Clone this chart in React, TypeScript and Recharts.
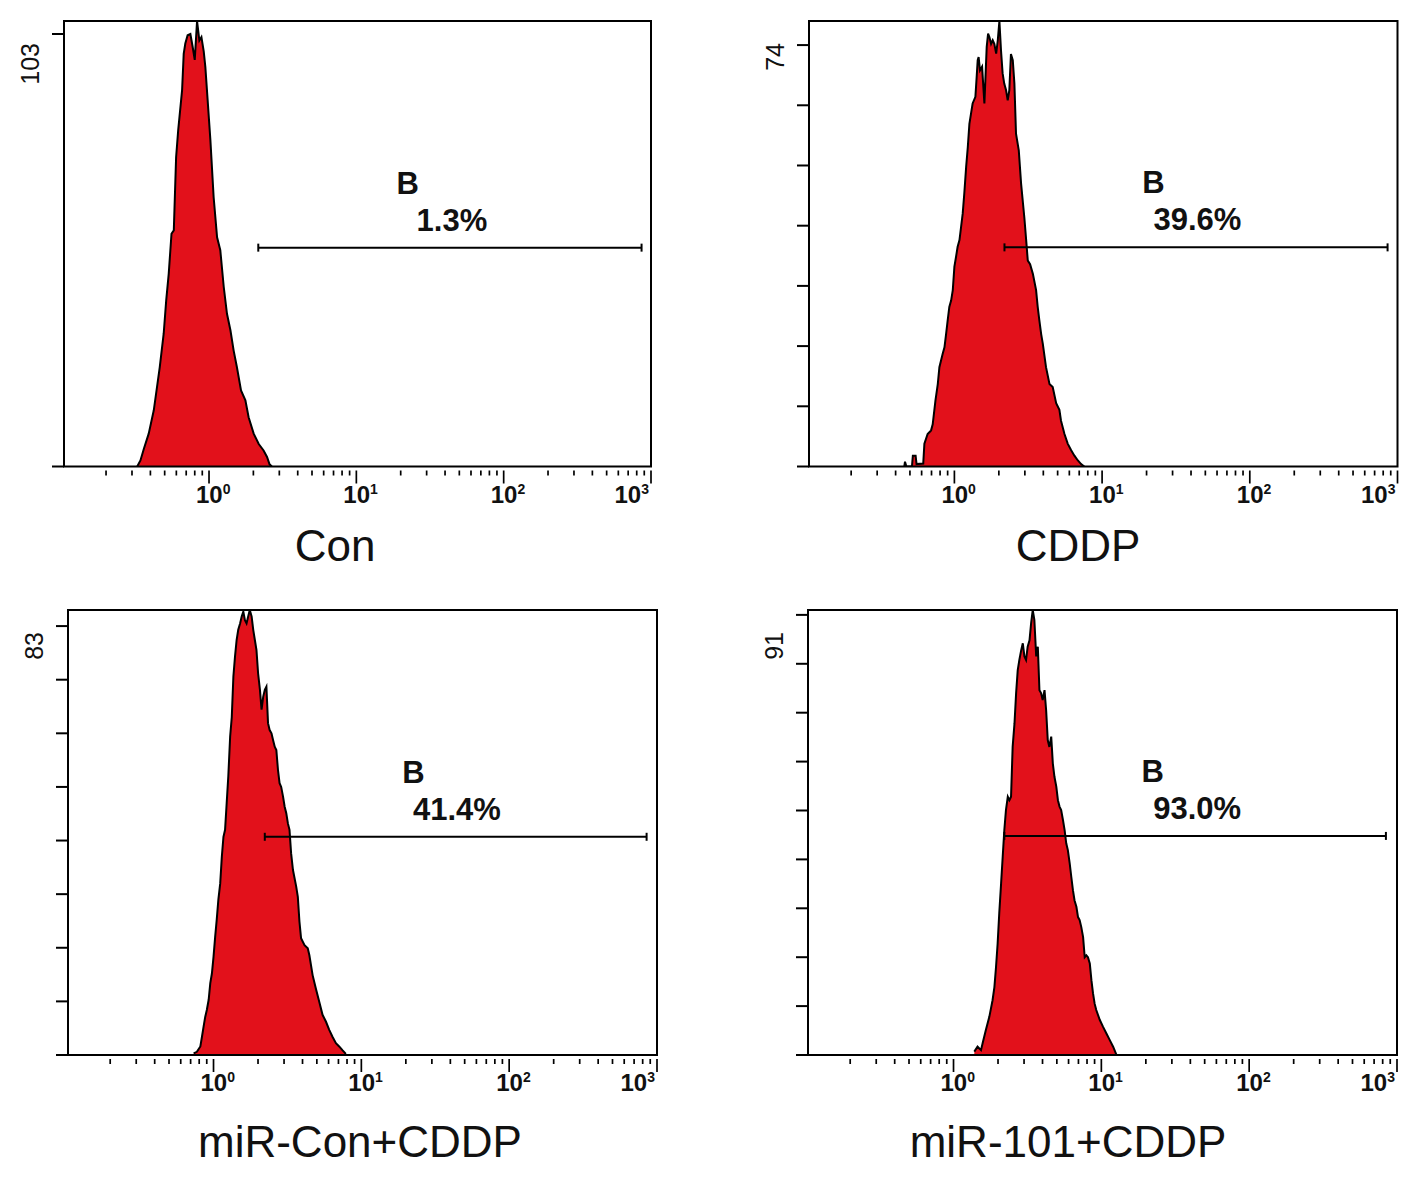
import React from 'react';
import { AreaChart, Area, XAxis, YAxis, ReferenceArea, ReferenceLine, ReferenceDot } from 'recharts';

// x values are log-scale channels: 64 channels per decade, channel 0 = 10^-1, channel 256 = 10^3
const CH_MIN = 1;
const CH_MAX = 256;

const titles = ['Con', 'CDDP', 'miR-Con+CDDP', 'miR-101+CDDP'];
const gateName = 'B';
const gatePercents = ['1.3%', '39.6%', '41.4%', '93.0%'];
const yMaxValues = [103, 74, 83, 91];

const yTicksCon = [0, 100, 103];
const yTicksCddp = [0, 10, 20, 30, 40, 50, 60, 70, 74];
const yTicksMiCon = [0, 10, 20, 30, 40, 50, 60, 70, 80, 83];
const yTicksMi101 = [0, 10, 20, 30, 40, 50, 60, 70, 80, 90, 91];

const decadeExponents = [0, 1, 2, 3];
const decadeStarts = [0.1, 1, 10, 100];
const minorMultipliers = [2, 3, 4, 5, 6, 7, 8, 9];

const gateStartCh = [85.4, 85.7, 86.2, 86.0];
const gateEndCh = [251.9, 251.7, 251.5, 251.2];
const gateCount = [50.6, 36.4, 40.7, 44.8];
const gateNameCh = [150.3, 150.3, 150.6, 150.2];
const gatePctCh = [169.5, 169.3, 169.4, 169.5];

// Con
const conCh = [32.8, 34.2, 35.7, 37.8, 40.0, 42.6, 44.3, 45.4, 46.5, 47.2, 47.7, 48.7, 49.7, 50.6, 52.3, 53.0, 53.7, 54.7, 55.9, 56.9, 57.8, 58.8, 59.8, 60.7, 61.7, 62.4, 63.4, 64.6, 66.0, 67.5, 68.9, 70.4, 71.8, 73.3, 74.7, 76.1, 77.9, 79.8, 81.2, 83.4, 85.6, 87.7, 89.2, 90.3, 91.3];
const conCount = [0, 1.4, 4.1, 7.6, 13, 23, 30.7, 38.4, 44.6, 50, 53.8, 54.6, 71.5, 77.7, 87, 95.4, 97.8, 99.7, 100, 97, 94, 103, 98.5, 99.3, 96, 92.4, 84.7, 75.4, 62.3, 53, 50, 41.5, 35.3, 31.5, 26.8, 23, 17.6, 15.3, 11.4, 7.6, 5.2, 3.7, 2.2, 0.5, 0];

// CDDP
const cddpCh = [42.3, 42.6, 43.2, 45.6, 46.0, 47.2, 47.6, 50.5, 51.0, 52.4, 53.9, 54.6, 55.8, 56.8, 57.5, 58.9, 59.7, 60.4, 61.1, 61.8, 62.6, 63.3, 64.0, 64.7, 65.4, 66.2, 66.9, 67.6, 68.3, 69.1, 69.8, 70.5, 71.2, 71.9, 73.1, 73.7, 74.1, 74.5, 75.1, 76.0, 77.0, 78.0, 78.6, 79.2, 79.9, 80.6, 81.3, 82.1, 82.8, 83.5, 84.2, 84.9, 85.6, 86.4, 87.1, 87.8, 88.5, 89.3, 90.0, 90.7, 91.9, 92.9, 94.3, 95.1, 95.8, 96.8, 98.0, 99.4, 100.1, 100.8, 101.6, 102.3, 103.7, 105.2, 106.6, 108.1, 109.5, 110.2, 111.7, 113.1, 114.6, 116.0, 117.5, 118.9, 120.3];
const cddpCount = [0, 0.8, 0, 0, 1.8, 1.8, 0.4, 0.5, 3.8, 5.4, 6, 7, 11, 13.7, 16.5, 18.7, 19.8, 22, 24.3, 26.5, 27.6, 29.3, 33.2, 34.8, 36.5, 37.6, 39.8, 42, 45.4, 49.8, 53, 56.9, 58.6, 60.3, 61.4, 65, 67.5, 68, 65.8, 66.4, 60.3, 69.7, 71.9, 71.3, 70.2, 70.8, 70.2, 68.6, 70.8, 74, 69.1, 65.3, 63.6, 62.5, 60.8, 62.5, 68.5, 67.5, 63.6, 55.3, 52.5, 47, 41.4, 37.6, 34.2, 33.6, 32, 29.3, 26.5, 24.3, 22, 20.4, 16.5, 13.7, 13.2, 10.5, 9.4, 7.6, 5.4, 3.8, 2.7, 1.8, 1.0, 0.4, 0];

// miR-Con+CDDP
const miConCh = [55.4, 56.8, 58.3, 59.0, 59.7, 60.4, 61.1, 61.9, 62.6, 63.3, 64.0, 64.7, 65.4, 66.1, 66.9, 67.6, 68.3, 69.0, 69.7, 70.4, 71.2, 71.9, 72.6, 73.3, 74.0, 74.7, 75.5, 76.2, 76.9, 77.6, 78.3, 79.0, 79.7, 80.5, 81.2, 81.9, 82.6, 83.3, 84.1, 84.8, 85.5, 86.2, 86.9, 87.6, 88.3, 89.1, 89.8, 90.5, 91.2, 91.9, 92.6, 93.3, 94.1, 94.8, 95.5, 96.2, 96.9, 97.6, 98.4, 99.8, 100.5, 101.2, 101.9, 103.4, 104.8, 105.5, 106.9, 108.3, 109.8, 111.2, 112.7, 114.1, 115.5, 117.0, 118.4, 119.8, 121.3];
const miConCount = [0.3, 0.6, 1.6, 3.4, 5.3, 7.1, 8.4, 10.3, 13.4, 15.2, 18.3, 22, 25.3, 29, 32, 37, 40.7, 42, 47, 52, 59.4, 63, 70.6, 74.3, 77.4, 79.3, 80.5, 81.8, 82.7, 81.1, 80.5, 81.8, 83, 81.8, 79.3, 77.4, 75.5, 71.2, 68.1, 64.4, 66.8, 68.1, 68.7, 61.9, 60.6, 60, 58.7, 57.5, 56.9, 53.2, 50.7, 50, 48.2, 46.3, 45.1, 43.2, 42, 37.6, 34.5, 31.4, 29.5, 24.9, 21.8, 20.5, 19.9, 18.6, 14.9, 12.4, 9.9, 7.5, 6.2, 4.7, 3.4, 2.2, 1.6, 0.9, 0.2];

// miR-101+CDDP
const mi101Ch = [73.0, 74.4, 75.9, 76.6, 78.0, 79.5, 80.9, 81.7, 82.4, 83.1, 83.8, 84.6, 85.3, 86.0, 86.7, 87.5, 88.2, 88.9, 89.6, 90.4, 91.1, 91.8, 92.5, 93.3, 94.0, 94.7, 95.4, 96.1, 96.9, 97.6, 98.3, 99.0, 99.8, 100.5, 101.2, 101.9, 102.6, 103.4, 104.1, 104.8, 105.5, 106.3, 107.0, 107.7, 108.5, 109.2, 109.9, 110.6, 111.4, 112.1, 112.8, 113.5, 114.3, 115.0, 115.7, 116.4, 117.2, 117.9, 118.6, 119.3, 120.1, 120.8, 121.5, 122.2, 123.0, 123.7, 124.4, 125.1, 125.8, 127.3, 128.7, 130.2, 131.6, 133.1, 134.5];
const mi101Count = [0.7, 1.7, 1.0, 2.4, 5.1, 7.8, 11.2, 13.9, 18, 22.8, 29, 35.1, 40.6, 46, 50.1, 52.8, 52.1, 52.8, 63, 67.8, 74, 78.7, 80.8, 82.8, 84.2, 81.5, 80.8, 83.5, 84.8, 88.3, 91, 89, 81.5, 83.5, 74.6, 74, 72.6, 74.6, 70.5, 64.4, 63, 65.1, 59.6, 56.9, 54.9, 52.1, 50.8, 50.1, 48, 46, 43.3, 41.9, 39.2, 36.4, 33.7, 31.6, 30.3, 28.2, 27.6, 26.2, 24.1, 20, 20.4, 20, 18.7, 15.3, 12.6, 10.5, 9.2, 7.2, 5.8, 4.4, 3.1, 1.7, 0.1];

const seriesCh = [conCh, cddpCh, miConCh, mi101Ch];
const seriesCount = [conCount, cddpCount, miConCount, mi101Count];
const seriesYTicks = [yTicksCon, yTicksCddp, yTicksMiCon, yTicksMi101];

const toChannel = (v: number) => 64 * (Math.log10(v) + 1);
const majorTicks = decadeExponents.map((e) => 64 * (e + 1));
const minorTicks: number[] = [];
decadeStarts.forEach((d) => minorMultipliers.forEach((m) => minorTicks.push(toChannel(d * m))));
const xTicks = [...minorTicks, ...majorTicks].sort((a, b) => a - b);

const FONT = 'Arial, "Liberation Sans", Helvetica, sans-serif';
const RED = '#E2111B';

const BOXES = [
  { left: 64, top: 20.5, right: 651, bottom: 466 },
  { left: 808.5, top: 20.5, right: 1397, bottom: 466 },
  { left: 68, top: 610, right: 657, bottom: 1055 },
  { left: 808, top: 610, right: 1397, bottom: 1055 },
];
const TITLE_POS = [
  { x: 335, y: 561 },
  { x: 1078, y: 561 },
  { x: 360, y: 1157 },
  { x: 1068, y: 1157 },
];

const XTick = (props: any) => {
  const { x, y, payload } = props;
  const v = payload.value;
  const idx = majorTicks.findIndex((m) => Math.abs(m - v) < 0.01);
  const major = idx >= 0;
  const isLast = idx === majorTicks.length - 1;
  return (
    <g>
      <line x1={x} x2={x} y1={y + 4} y2={y + (major ? 17 : 9)} stroke="#000" strokeWidth={1.7} />
      {major && (
        <text
          x={isLast ? x - 2 : x - 13}
          y={y + 36}
          textAnchor={isLast ? 'end' : 'start'}
          fontFamily={FONT}
          fontWeight="bold"
          fontSize={24}
          fill="#111"
        >
          10
          <tspan fontSize={14} dy={-9}>
            {String(decadeExponents[idx])}
          </tspan>
        </text>
      )}
    </g>
  );
};

const makeYTick = (ymax: number) => (props: any) => {
  const { x, y, payload } = props;
  if (payload.value === ymax) {
    const tx = x - 25;
    const ty = y + 22;
    return (
      <text
        x={tx}
        y={ty}
        textAnchor="end"
        transform={`rotate(-90, ${tx}, ${ty})`}
        fontFamily={FONT}
        fontSize={25}
        fill="#111"
      >
        {String(ymax)}
      </text>
    );
  }
  return <line x1={x - 12} x2={x} y1={y} y2={y} stroke="#000" strokeWidth={2} />;
};

const Cap = (props: any) => {
  const { cx, cy } = props;
  return <line x1={cx} x2={cx} y1={cy - 4} y2={cy + 4} stroke="#000" strokeWidth={2} />;
};

const makeTextShape = (label: string, dy: number) => (props: any) => {
  const { cx, cy } = props;
  return (
    <text x={cx} y={cy + dy} textAnchor="middle" fontFamily={FONT} fontWeight="bold" fontSize={31} fill="#111">
      {label}
    </text>
  );
};

function Histogram({ idx }: { idx: number }) {
  const box = BOXES[idx];
  const ML = 63; // + 1px y-axis width
  const MT = 20;
  const MR = 16;
  const MB = 59; // + 1px x-axis height
  const w = box.right - box.left + ML + 1 + MR;
  const h = box.bottom - box.top + MT + MB + 1;
  const ymax = yMaxValues[idx];
  const data = seriesCh[idx].map((c, i) => ({ ch: c, count: seriesCount[idx][i] }));
  const gy = gateCount[idx];
  return (
    <div style={{ position: 'absolute', left: box.left - ML - 1, top: box.top - MT, width: w, height: h }}>
      <AreaChart width={w} height={h} data={data} margin={{ top: MT, left: ML, right: MR, bottom: MB }}>
        <XAxis
          type="number"
          dataKey="ch"
          domain={[CH_MIN, CH_MAX]}
          allowDataOverflow
          ticks={xTicks}
          interval={0}
          tick={XTick}
          tickSize={0}
          tickMargin={0}
          axisLine={false}
          tickLine={false}
          height={1}
        />
        <YAxis
          type="number"
          domain={[0, ymax]}
          allowDataOverflow
          ticks={seriesYTicks[idx]}
          interval={0}
          tick={makeYTick(ymax)}
          width={1}
          tickSize={0}
          tickMargin={0}
          axisLine={false}
          tickLine={false}
        />
        <Area
          type="linear"
          dataKey="count"
          stroke="#000"
          strokeWidth={2}
          fill={RED}
          fillOpacity={1}
          isAnimationActive={false}
          dot={false}
          activeDot={false}
        />
        <ReferenceArea x1={CH_MIN} x2={CH_MAX} y1={0} y2={ymax} fill="none" stroke="#000" strokeWidth={2} ifOverflow="visible" />
        <ReferenceLine
          segment={[
            { x: gateStartCh[idx], y: gy },
            { x: gateEndCh[idx], y: gy },
          ]}
          stroke="#000"
          strokeWidth={2}
        />
        <ReferenceDot x={gateStartCh[idx]} y={gy} r={4} shape={Cap} />
        <ReferenceDot x={gateEndCh[idx]} y={gy} r={4} shape={Cap} />
        <ReferenceDot x={gateNameCh[idx]} y={gy} r={1} shape={makeTextShape(gateName, -54)} />
        <ReferenceDot x={gatePctCh[idx]} y={gy} r={1} shape={makeTextShape(gatePercents[idx], -17)} />
      </AreaChart>
    </div>
  );
}

export default function App() {
  return (
    <div style={{ position: 'absolute', left: 0, top: 0, width: 1417, height: 1179, background: '#fff', overflow: 'hidden' }}>
      {[0, 1, 2, 3].map((i) => (
        <Histogram key={i} idx={i} />
      ))}
      <svg width={1417} height={1179} style={{ position: 'absolute', left: 0, top: 0, pointerEvents: 'none' }}>
        {titles.map((t, i) => (
          <text key={t} x={TITLE_POS[i].x} y={TITLE_POS[i].y} textAnchor="middle" fontFamily={FONT} fontSize={44} fill="#111">
            {t}
          </text>
        ))}
      </svg>
    </div>
  );
}
